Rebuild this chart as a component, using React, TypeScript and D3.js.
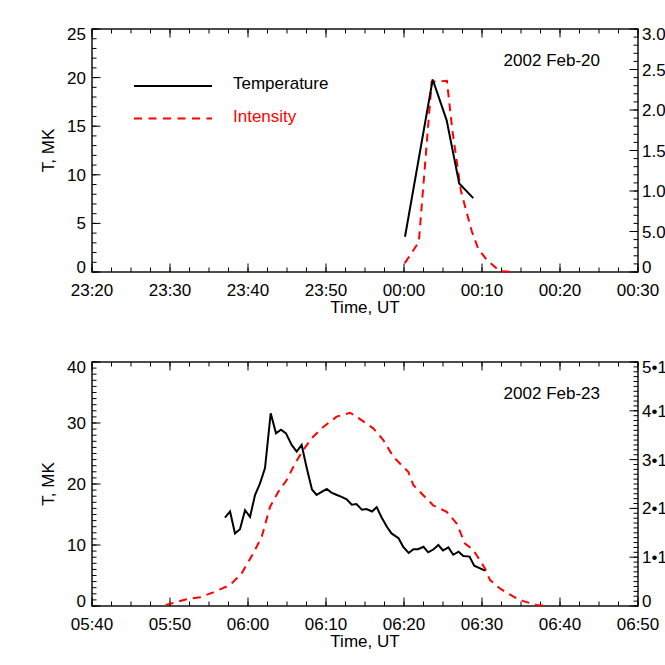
// @ts-nocheck
import React from "react";
import * as d3 from "d3";

// minutes after the reference time, temperature in MK
const feb20Base = "2002-02-20T00:00:00Z";
const feb20TempTime = [0.13, 3.68, 5.47, 7.08, 8.88];
const feb20Temp = [3.63, 19.8, 15.6, 9.1, 7.6];
const feb20IntTime = [0.1, 1.9, 3.55, 5.5, 6.2, 7.3, 8.7, 9.5, 10.6, 12.3, 14.2];
const feb20Int = [0.11, 0.37, 2.35, 2.36, 1.75, 1.0, 0.5, 0.29, 0.15, 0.01, 0.0];

const feb23Base = "2002-02-23T06:00:00Z";
const feb23TempTime = [
  -2.95, -2.3, -1.67, -1.03, -0.38, 0.26, 0.9, 1.54, 2.18, 2.91, 3.59, 4.23,
  4.87, 5.6, 6.24, 6.88, 7.5, 8.2, 8.8, 9.45, 10.1, 10.7, 11.4, 12.0, 12.65,
  13.3, 13.9, 14.6, 15.2, 15.9, 16.5, 17.1, 17.8, 18.4, 19.3, 19.9, 20.6, 21.2,
  21.8, 22.5, 23.1, 23.8, 24.4, 25.0, 25.7, 26.3, 27.0, 27.6, 28.4, 29.0, 30.4,
];
const feb23Temp = [
  14.5, 15.5, 11.9, 12.6, 15.7, 14.6, 18.2, 20.1, 22.6, 31.6, 28.3, 28.9, 28.3,
  26.4, 25.3, 26.4, 22.8, 19.1, 18.2, 18.7, 19.2, 18.6, 18.2, 17.9, 17.5, 16.6,
  16.7, 15.8, 15.9, 15.5, 16.2, 14.6, 13.0, 11.9, 11.1, 9.7, 8.7, 9.3, 9.3, 9.7,
  8.8, 9.3, 10.0, 9.1, 9.6, 8.4, 8.9, 8.2, 8.1, 6.6, 5.8,
];
const feb23IntTime = [
  -10.55, -7.86, -6.15, -4.45, -2.31, -0.81, 0.68, 1.76, 2.82, 3.88, 4.96, 6.03,
  7.09, 8.17, 9.65, 11.37, 13.08, 14.36, 16.06, 17.35, 18.63, 19.91, 20.55,
  21.19, 22.47, 23.76, 25.47, 26.76, 27.82, 28.88, 30.38, 31.03, 32.3, 33.2,
  34.4, 35.3, 37.0, 38.5,
];
const feb23Int = [
  0.02, 0.14, 0.18, 0.28, 0.43, 0.67, 1.08, 1.42, 2.03, 2.34, 2.58, 2.92, 3.2,
  3.44, 3.67, 3.88, 3.96, 3.83, 3.64, 3.4, 3.06, 2.85, 2.75, 2.48, 2.27, 2.06,
  1.93, 1.69, 1.28, 1.15, 0.77, 0.53, 0.36, 0.27, 0.16, 0.1, 0.02, 0.0,
];

const feb20RightLabels = ["0", "5.0•10⁴", "1.0•10⁵", "1.5•10⁵", "2.0•10⁵", "2.5•10⁵", "3.0•10⁵"];
const feb23RightLabels = ["0", "1•10⁵", "2•10⁵", "3•10⁵", "4•10⁵", "5•10⁵"];

const legendNames = ["Temperature", "Intensity"];

const W = 665;
const H = 665;
const FONT = "'Liberation Sans', Arial, Helvetica, sans-serif";
const FS = 17;

const toDate = (base, m) => new Date(new Date(base).getTime() + m * 60000);

function Panel({
  top, bottom, start, end, base, title,
  tTime, tVal, iTime, iVal,
  yMax, yStep, yMinor, rMax, rStep, rMinor, rLabels, legend,
}) {
  const left = 92;
  const right = 638;
  const x = d3.scaleUtc().domain([new Date(start), new Date(end)]).range([left, right]);
  const y = d3.scaleLinear().domain([0, yMax]).range([bottom, top]);
  const yr = d3.scaleLinear().domain([0, rMax]).range([bottom, top]);
  const fmt = d3.utcFormat("%H:%M");
  const xMajor = x.ticks(d3.utcMinute.every(10));
  const totalMin = (new Date(end).getTime() - new Date(start).getTime()) / 60000;
  const xMinor = d3.range(0, totalMin + 0.01, 2.5).map((m) => toDate(start, m));
  const yMajor = d3.range(0, yMax + 1e-6, yStep);
  const yMin = d3.range(0, yMax + 1e-6, yStep / yMinor);
  const rMajor = d3.range(0, rMax + 1e-6, rStep);
  const rMin = d3.range(0, rMax + 1e-6, rStep / rMinor);
  const clampY = (v) => Math.max(top + 5, Math.min(bottom - 5, v));

  const tempLine = d3
    .line()
    .x((d) => x(toDate(base, d[0])))
    .y((d) => y(d[1]));
  const intLine = d3
    .line()
    .x((d) => x(toDate(base, d[0])))
    .y((d) => yr(d[1]));

  return (
    <g fontFamily={FONT} fontSize={FS} fill="#000">
      {/* minor ticks */}
      {xMinor.map((d, i) => (
        <g key={"xm" + i} stroke="#000" strokeWidth={1}>
          <line x1={x(d)} x2={x(d)} y1={bottom} y2={bottom - 4.5} />
          <line x1={x(d)} x2={x(d)} y1={top} y2={top + 4.5} />
        </g>
      ))}
      {xMajor.map((d, i) => (
        <g key={"xM" + i}>
          <line x1={x(d)} x2={x(d)} y1={bottom} y2={bottom - 8.5} stroke="#000" strokeWidth={1} />
          <line x1={x(d)} x2={x(d)} y1={top} y2={top + 8.5} stroke="#000" strokeWidth={1} />
          <text x={x(d)} y={bottom + 24} textAnchor="middle">{fmt(d)}</text>
        </g>
      ))}
      {yMin.map((v, i) => (
        <line key={"ym" + i} x1={left} x2={left + 4.5} y1={y(v)} y2={y(v)} stroke="#000" strokeWidth={1} />
      ))}
      {yMajor.map((v, i) => (
        <g key={"yM" + i}>
          <line x1={left} x2={left + 8.5} y1={y(v)} y2={y(v)} stroke="#000" strokeWidth={1} />
          <text x={86} y={clampY(y(v)) + 6} textAnchor="end">{d3.format("d")(v)}</text>
        </g>
      ))}
      {rMin.map((v, i) => (
        <line key={"rm" + i} x1={right} x2={right - 4.5} y1={yr(v)} y2={yr(v)} stroke="#000" strokeWidth={1} />
      ))}
      {rMajor.map((v, i) => (
        <g key={"rM" + i}>
          <line x1={right} x2={right - 8.5} y1={yr(v)} y2={yr(v)} stroke="#000" strokeWidth={1} />
          <text x={642} y={clampY(yr(v)) + 6}>{rLabels[i]}</text>
        </g>
      ))}
      <rect x={left} y={top} width={right - left} height={bottom - top} fill="none" stroke="#000" strokeWidth={1.4} />

      <path d={intLine(iTime.map((t, i) => [t, iVal[i]]))} fill="none" stroke="#ff0000" strokeWidth={2} strokeDasharray="8,6" />
      <path d={tempLine(tTime.map((t, i) => [t, tVal[i]]))} fill="none" stroke="#000" strokeWidth={2} />

      <text x={600} y={top + 37} textAnchor="end">{title}</text>
      <text x={365} y={bottom + 41} textAnchor="middle">Time, UT</text>
      <text transform={`translate(54,${(top + bottom) / 2}) rotate(-90)`} textAnchor="middle">T, MK</text>

      {legend && (
        <g>
          <line x1={134} x2={212} y1={86} y2={86} stroke="#000" strokeWidth={2} />
          <text x={233} y={89}>{legendNames[0]}</text>
          <line x1={134} x2={212} y1={118.5} y2={118.5} stroke="#ff0000" strokeWidth={2} strokeDasharray="8,6.5" />
          <text x={233} y={122} fill="#ff0000">{legendNames[1]}</text>
        </g>
      )}
    </g>
  );
}

export default function App() {
  return (
    <svg width={W} height={H} style={{ position: "absolute", left: 0, top: 0, background: "#fff" }}>
      <rect width={W} height={H} fill="#fff" />
      <Panel
        top={29} bottom={272}
        start="2002-02-19T23:20:00Z" end="2002-02-20T00:30:00Z"
        base={feb20Base} title="2002 Feb-20"
        tTime={feb20TempTime} tVal={feb20Temp}
        iTime={feb20IntTime} iVal={feb20Int}
        yMax={25} yStep={5} yMinor={5}
        rMax={3.0} rStep={0.5} rMinor={5} rLabels={feb20RightLabels}
        legend
      />
      <Panel
        top={362} bottom={606}
        start="2002-02-23T05:40:00Z" end="2002-02-23T06:50:00Z"
        base={feb23Base} title="2002 Feb-23"
        tTime={feb23TempTime} tVal={feb23Temp}
        iTime={feb23IntTime} iVal={feb23Int}
        yMax={40} yStep={10} yMinor={10}
        rMax={5} rStep={1} rMinor={10} rLabels={feb23RightLabels}
      />
    </svg>
  );
}
